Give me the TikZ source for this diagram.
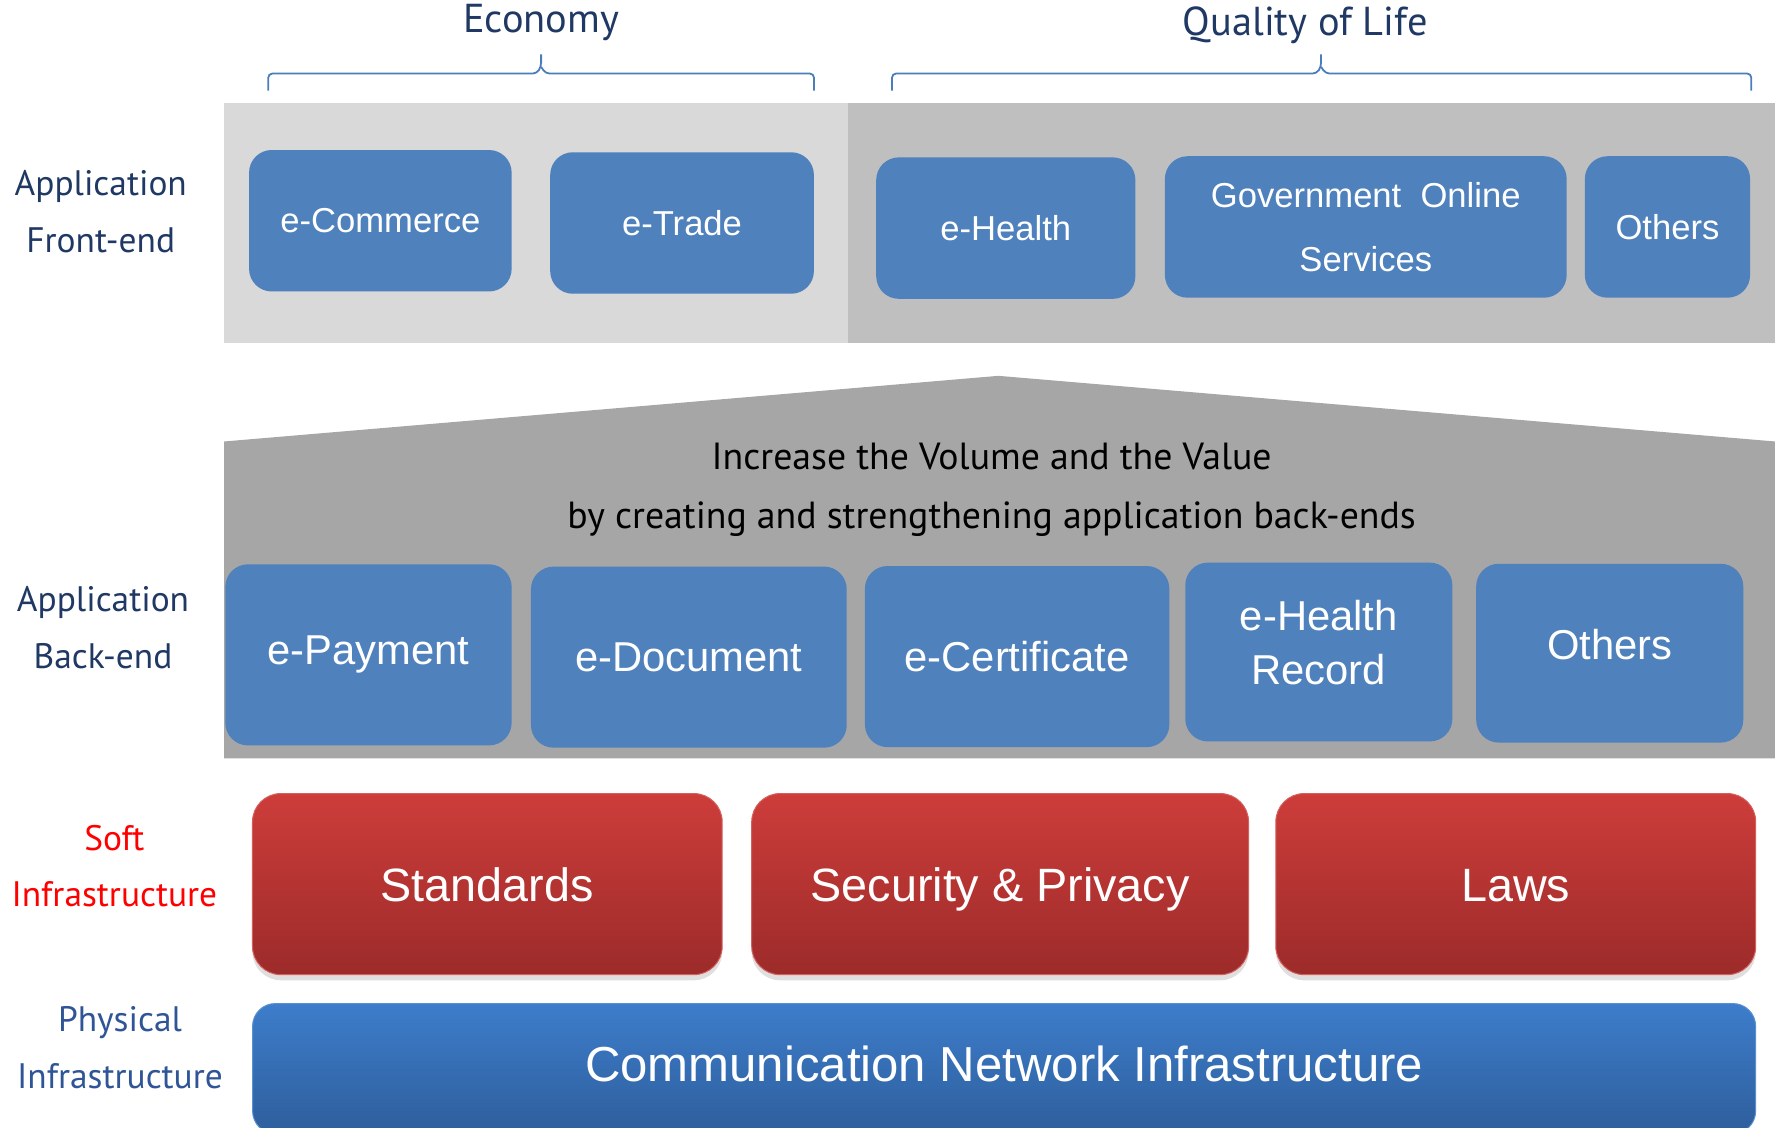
\documentclass[tikz,border=0pt]{standalone}
\usepackage{fontspec}
\setmainfont{Liberation Sans}
\newfontfamily\lblfont{PT Sans}
\usetikzlibrary{shadows}

\definecolor{navy}{HTML}{1F3864}
\definecolor{physblue}{HTML}{2F5597}
\definecolor{boxblue}{HTML}{4F81BD}
\definecolor{bracecol}{HTML}{4A7EBB}
\definecolor{lightpanel}{HTML}{D9D9D9}
\definecolor{darkpanel}{HTML}{BFBFBF}
\definecolor{housegray}{HTML}{A6A6A6}
\definecolor{redtop}{HTML}{CD3D3A}
\definecolor{redbot}{HTML}{9C2B2A}
\definecolor{redline}{HTML}{D4605D}
\definecolor{nettop}{HTML}{3D7DCB}
\definecolor{netbot}{HTML}{2E5E9C}
\definecolor{netline}{HTML}{5A8FD0}

\begin{document}
\begin{tikzpicture}[x=0.02cm,y=-0.02cm,
  lbl/.style={font=\lblfont\fontsize{17.8}{28.5}\selectfont,align=center,text=navy},
  toplbl/.style={font=\lblfont\fontsize{20.3}{24}\selectfont,text=navy},
  brace/.style={draw=bracecol,line width=0.9pt,rounded corners=2pt},
  frontbox/.style={fill=boxblue,rounded corners=0.4cm,text=white,align=center,font=\fontsize{17.4}{32}\selectfont,minimum height=2.5cm},
  backbox/.style={fill=boxblue,rounded corners=0.4cm,text=white,align=center,font=\fontsize{21}{27}\selectfont,minimum height=3.2cm},
  softbox/.style={rounded corners=0.5cm,top color=redtop,bottom color=redbot,draw=redline,line width=0.5pt,text=white,font=\fontsize{23.5}{28}\selectfont,text height=17pt,text depth=0pt,minimum height=3.2cm,drop shadow={opacity=0.25,shadow xshift=0pt,shadow yshift=-0.1cm}},
  netbar/.style={rounded corners=0.4cm,top color=nettop,bottom color=netbot,draw=netline,line width=0.5pt,text=white,font=\fontsize{24.7}{28}\selectfont,text depth=4.5pt,minimum width=26.56cm,minimum height=2.3cm}
  ]
  \useasboundingbox (0,0) rectangle (1568,996);
  \clip (0,0) rectangle (1568,996);

  \node[toplbl] (econ) at (478,20) {Economy};
  \node[toplbl] (qol) at (1153,22) {Quality of Life};
  \draw[brace] (237,80) |- (474,65) -- (478,59) -- (478,48);
  \draw[brace] (478,59) -- (482,65) -| (719,80);
  \draw[brace] (788,80) |- (1163,65) -- (1167,59) -- (1167,48);
  \draw[brace] (1167,59) -- (1171,65) -| (1547,80);

  \fill[lightpanel] (198,91) rectangle (749,303);
  \fill[darkpanel] (749,91) rectangle (1568,303);
  \node[lbl] (front) at (89,187) {Application\\Front-end};
  \node[frontbox,minimum width=4.64cm] (ecom) at (336,195) {e-Commerce};
  \node[frontbox,minimum width=4.66cm] (etrade) at (602.5,197) {e-Trade};
  \node[frontbox,minimum width=4.58cm] (ehealth) at (888.5,201.5) {e-Health};
  \node[frontbox,minimum width=7.1cm] (gov) at (1206.5,200.5) {Government\ \ Online\\Services};
  \node[frontbox,minimum width=2.92cm] (oth1) at (1473,200.5) {Others};

  \fill[housegray] (198,390) -- (882,332) -- (1568,390) -- (1568,670) -- (198,670) -- cycle;
  \node[lbl,text=black,font=\lblfont\fontsize{19}{29.6}\selectfont] (goal) at (876,433) {Increase the Volume and the Value\\by creating and strengthening application back-ends};
  \node[lbl] (back) at (91,554.5) {Application\\Back-end};
  \node[backbox,minimum width=5.06cm] (epay) at (325.5,578.5) {e-Payment};
  \node[backbox,minimum width=5.58cm] (edoc) at (608.5,580.5) {e-Document};
  \node[backbox,minimum width=5.38cm] (ecert) at (898.5,580) {e-Certificate};
  \node[backbox,minimum width=4.72cm,minimum height=3.16cm,text depth=10pt] (ehr) at (1165,576) {e-Health\\Record};
  \node[backbox,minimum width=4.72cm,minimum height=3.16cm,text depth=9pt] (oth2) at (1422,577) {Others};

  \node[lbl,text=red] (soft) at (101,765) {Soft\\Infrastructure};
  \node[softbox,minimum width=8.3cm] (std) at (430.5,781) {Standards};
  \node[softbox,minimum width=8.78cm] (sec) at (883.5,781) {Security \& Privacy};
  \node[softbox,minimum width=8.48cm] (laws) at (1339,781) {Laws};

  \node[lbl,text=physblue] (phys) at (106,925.5) {Physical\\Infrastructure};
  \node[netbar] (net) at (887,944) {Communication Network Infrastructure};
\end{tikzpicture}
\end{document}
